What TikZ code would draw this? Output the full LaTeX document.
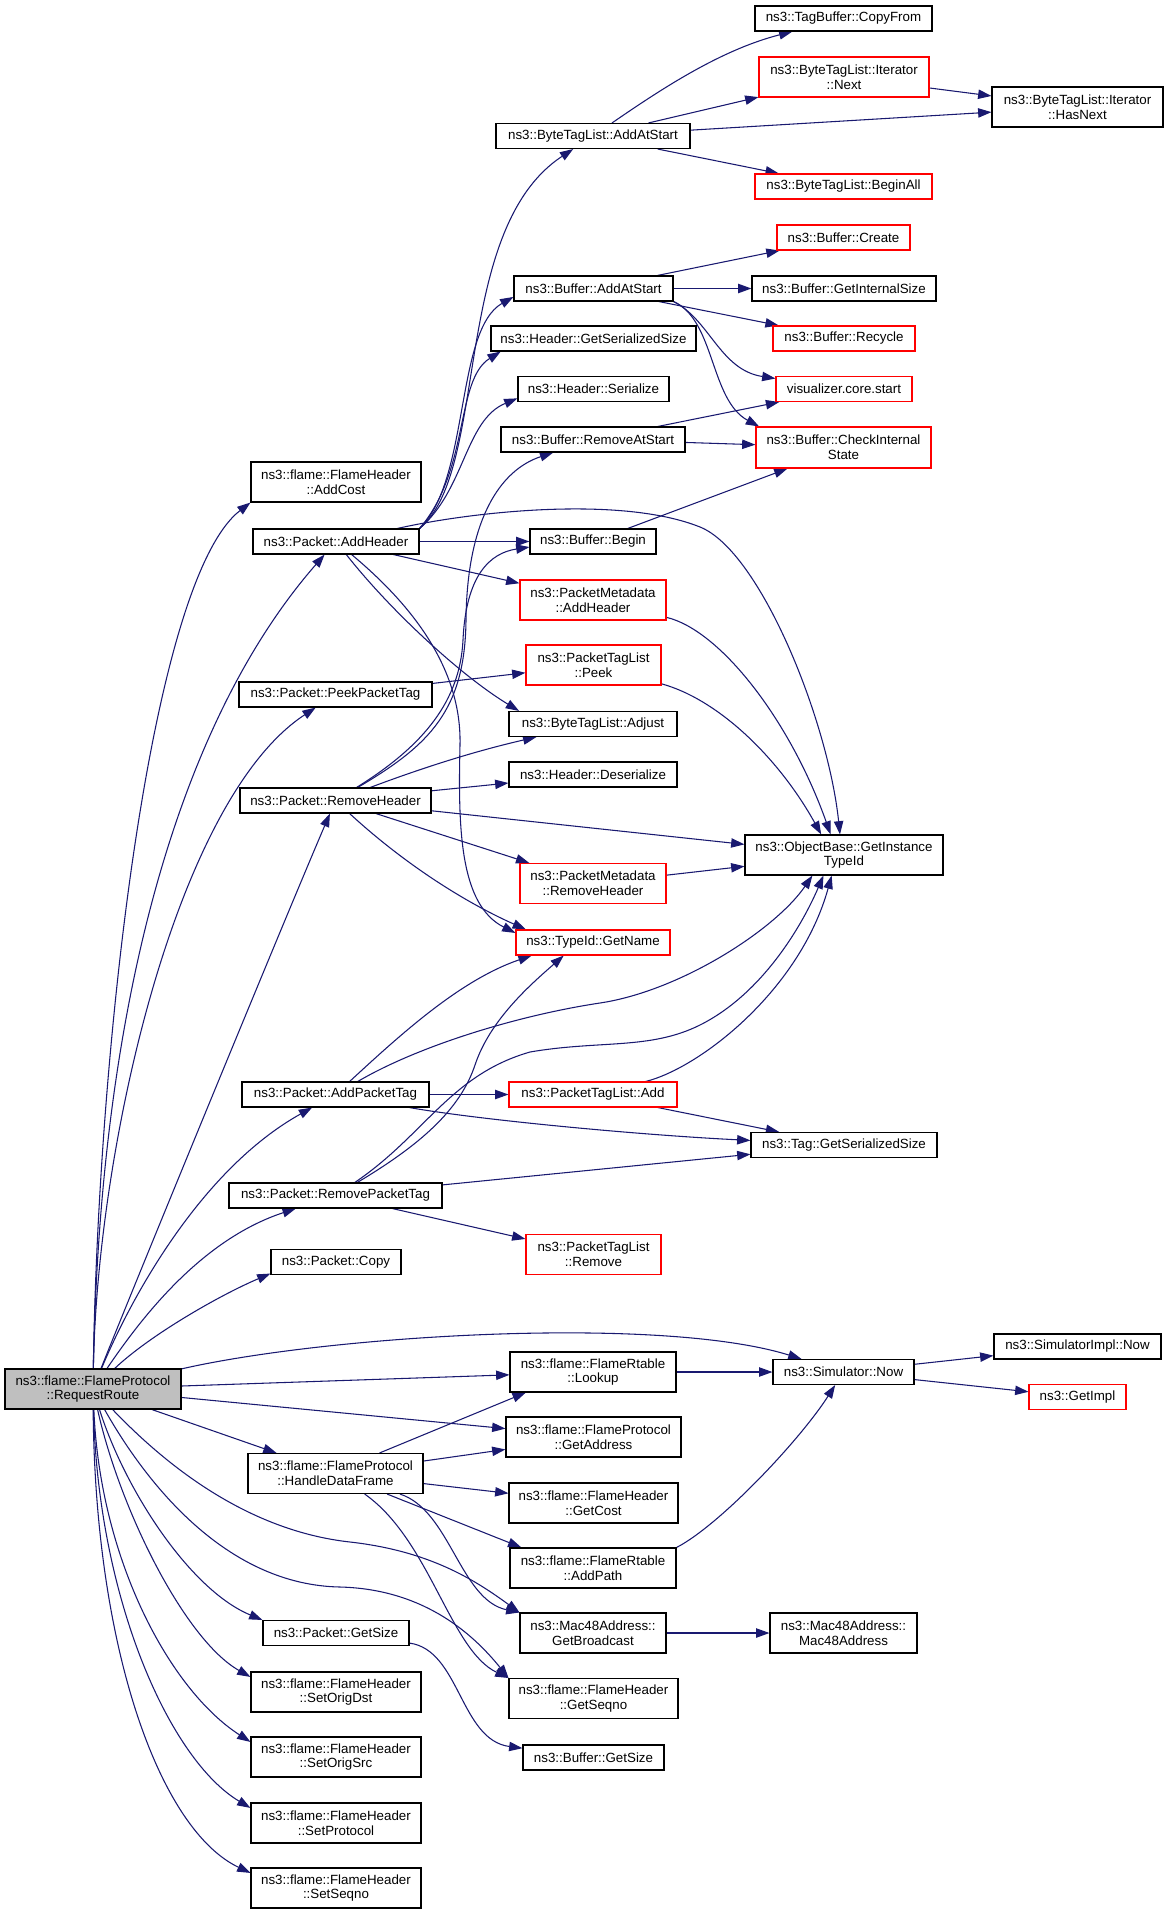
\documentclass[tikz,border=0pt]{standalone}
\usepackage{fontspec}
\setmainfont{Liberation Sans}
\usetikzlibrary{arrows.meta}
\definecolor{edgec}{HTML}{191970}
\definecolor{rrfill}{HTML}{BFBFBF}
\definecolor{nred}{HTML}{FF0000}
\pgfdeclarelayer{bg}
\pgfsetlayers{bg,main}
\tikzset{
  box/.style={draw=black, line width=0.8pt, fill=white, inner sep=0pt, align=center, font=\fontsize{10}{11}\selectfont},
  rbox/.style={box, draw=nred},
  W/.style={minimum width=#1*0.75pt},
  H/.style={minimum height=#1*0.75pt},
  conn/.style={draw=edgec, line width=0.8pt, -{Triangle[length=10pt,width=7pt]}},
}
\begin{document}
\begin{tikzpicture}[x=0.75pt,y=-0.75pt]
\useasboundingbox (0,0) rectangle (1168,1913);
% column 0
\node[box, fill=rrfill, W=176, H=40] (rr) at (93,1389) {ns3::flame::FlameProtocol\\::RequestRoute};
% column 1
\node[box, W=170, H=40] (addcost) at (336,482) {ns3::flame::FlameHeader\\::AddCost};
\node[box, W=166, H=25] (addheader) at (336,541.5) {ns3::Packet::AddHeader};
\node[box, W=193, H=25] (peekpt) at (335.5,694.5) {ns3::Packet::PeekPacketTag};
\node[box, W=191, H=25] (removeheader) at (335.5,800.5) {ns3::Packet::RemoveHeader};
\node[box, W=187, H=25] (addpt) at (335.5,1094.5) {ns3::Packet::AddPacketTag};
\node[box, W=213, H=25] (removept) at (335.5,1195.5) {ns3::Packet::RemovePacketTag};
\node[box, W=130, H=25] (copy) at (336,1262) {ns3::Packet::Copy};
\node[box, W=175, H=40] (hdf) at (335.5,1473.5) {ns3::flame::FlameProtocol\\::HandleDataFrame};
\node[box, W=146, H=25] (getsize) at (336,1633) {ns3::Packet::GetSize};
\node[box, W=170, H=40] (setorigdst) at (336,1692) {ns3::flame::FlameHeader\\::SetOrigDst};
\node[box, W=170, H=40] (setorigsrc) at (336,1757) {ns3::flame::FlameHeader\\::SetOrigSrc};
\node[box, W=170, H=40] (setprotocol) at (336,1823) {ns3::flame::FlameHeader\\::SetProtocol};
\node[box, W=170, H=40] (setseqno) at (336,1888) {ns3::flame::FlameHeader\\::SetSeqno};
% column 2
\node[box, W=194, H=25] (btlaas) at (593,136) {ns3::ByteTagList::AddAtStart};
\node[box, W=159, H=25] (bufaas) at (593.5,288.5) {ns3::Buffer::AddAtStart};
\node[box, W=205, H=25] (hdrgss) at (593.5,338.5) {ns3::Header::GetSerializedSize};
\node[box, W=151, H=25] (hdrser) at (593.5,389) {ns3::Header::Serialize};
\node[box, W=184, H=25] (bufras) at (593,439.5) {ns3::Buffer::RemoveAtStart};
\node[box, W=126, H=25] (bufbegin) at (593,541.5) {ns3::Buffer::Begin};
\node[rbox, W=146, H=40] (pmaddh) at (593,600) {ns3::PacketMetadata\\::AddHeader};
\node[rbox, W=135, H=40] (ptlpeek) at (593.5,665) {ns3::PacketTagList\\::Peek};
\node[box, W=168, H=25] (btladj) at (593,724) {ns3::ByteTagList::Adjust};
\node[box, W=168, H=25] (hdrdes) at (593,774.5) {ns3::Header::Deserialize};
\node[rbox, W=146, H=40] (pmremh) at (593,883.5) {ns3::PacketMetadata\\::RemoveHeader};
\node[rbox, W=154, H=25] (tidgn) at (593,942.5) {ns3::TypeId::GetName};
\node[rbox, W=168, H=25] (ptladd) at (593,1094.5) {ns3::PacketTagList::Add};
\node[rbox, W=135, H=40] (ptlrem) at (593.5,1254.5) {ns3::PacketTagList\\::Remove};
\node[box, W=166, H=40] (frlookup) at (593,1372) {ns3::flame::FlameRtable\\::Lookup};
\node[box, W=175, H=40] (fpgetaddr) at (593.5,1437) {ns3::flame::FlameProtocol\\::GetAddress};
\node[box, W=169, H=40] (fhgetcost) at (593.5,1503) {ns3::flame::FlameHeader\\::GetCost};
\node[box, W=166, H=40] (fraddpath) at (593,1568) {ns3::flame::FlameRtable\\::AddPath};
\node[box, W=146, H=40] (macgb) at (593,1633) {ns3::Mac48Address::\\GetBroadcast};
\node[box, W=169, H=40] (fhgetseqno) at (593.5,1698.5) {ns3::flame::FlameHeader\\::GetSeqno};
\node[box, W=141, H=25] (bufgetsize) at (593.5,1757.5) {ns3::Buffer::GetSize};
% column 3
\node[box, W=177, H=25] (tbcopy) at (843.5,18.5) {ns3::TagBuffer::CopyFrom};
\node[rbox, W=170, H=40] (itnext) at (844,77) {ns3::ByteTagList::Iterator\\::Next};
\node[rbox, W=177, H=25] (btlbeginall) at (843.5,186.5) {ns3::ByteTagList::BeginAll};
\node[rbox, W=133, H=25] (bufcreate) at (843.5,237.5) {ns3::Buffer::Create};
\node[box, W=184, H=25] (bufgis) at (844,288.5) {ns3::Buffer::GetInternalSize};
\node[rbox, W=142, H=25] (bufrecycle) at (844,338.5) {ns3::Buffer::Recycle};
\node[rbox, W=136, H=25] (viz) at (844,389) {visualizer.core.start};
\node[rbox, W=175, H=41] (bufcis) at (843.5,447.5) {ns3::Buffer::CheckInternal\\State};
\node[box, W=198, H=40] (obgitid) at (844,855) {ns3::ObjectBase::GetInstance\\TypeId};
\node[box, W=186, H=25] (taggss) at (844,1145) {ns3::Tag::GetSerializedSize};
\node[box, W=141, H=25] (simnow) at (843.5,1372) {ns3::Simulator::Now};
\node[box, W=147, H=40] (macmac) at (843.5,1633) {ns3::Mac48Address::\\Mac48Address};
% column 4
\node[box, W=171, H=40] (ithasnext) at (1077.5,107) {ns3::ByteTagList::Iterator\\::HasNext};
\node[box, W=167, H=25] (simimplnow) at (1077.5,1346.5) {ns3::SimulatorImpl::Now};
\node[rbox, W=97, H=25] (getimpl) at (1077.5,1397) {ns3::GetImpl};

\begin{pgfonlayer}{bg}
% from RequestRoute
\draw[conn] (rr) .. controls (98,1050) and (150,580) .. (addcost.south west);
\draw[conn] (rr) .. controls (100,1000) and (180,720) .. (addheader);
\draw[conn] (rr) .. controls (97,1150) and (175,800) .. (peekpt);
\draw[conn] (rr) .. controls (120,1320) and (280,930) .. (removeheader);
\draw[conn] (rr) .. controls (130,1300) and (200,1170) .. (addpt);
\draw[conn] (rr) .. controls (140,1320) and (200,1240) .. (removept);
\draw[conn] (rr) .. controls (150,1335) and (220,1295) .. (copy.190);
\draw[conn] (rr) .. controls (330,1335) and (660,1315) .. (simnow);
\draw[conn] (rr) -- (frlookup);
\draw[conn] (rr) -- (fpgetaddr);
\draw[conn] (rr) -- (hdf);
\draw[conn] (rr) .. controls (180,1480) and (260,1532) .. (350,1542) .. controls (430,1551) and (475,1580) .. (macgb.north west);
\draw[conn] (rr) .. controls (150,1490) and (230,1585) .. (340,1587) .. controls (420,1589) and (470,1630) .. (fhgetseqno.north west);
\draw[conn] (rr) .. controls (125,1490) and (190,1590) .. (getsize.north west);
\draw[conn] (rr) .. controls (120,1510) and (185,1640) .. (setorigdst.170);
\draw[conn] (rr) .. controls (100,1560) and (170,1690) .. (setorigsrc.170);
\draw[conn] (rr) .. controls (98,1600) and (170,1760) .. (setprotocol.170);
\draw[conn] (rr) .. controls (95,1650) and (160,1830) .. (setseqno.170);
% from AddHeader
\draw[conn] (addheader.north east) .. controls (490,470) and (450,230) .. (btlaas);
\draw[conn] (addheader.north east) .. controls (470,480) and (455,330) .. (bufaas.186);
\draw[conn] (addheader.north east) .. controls (470,470) and (455,380) .. (hdrgss.188);
\draw[conn] (addheader.north east) .. controls (465,490) and (465,420) .. (hdrser.187);
\draw[conn] (addheader.12) .. controls (470,512) and (620,495) .. (700,527) .. controls (760,551) and (828,720) .. (obgitid.101);
\draw[conn] (addheader) -- (bufbegin);
\draw[conn] (addheader) -- (pmaddh);
\draw[conn] (addheader) .. controls (390,610) and (460,675) .. (btladj.170);
\draw[conn] (addheader) .. controls (400,595) and (462,660) .. (460,745) .. controls (458,830) and (460,905) .. (tidgn.173);
% from RemoveHeader
\draw[conn] (removeheader) .. controls (430,745) and (465,710) .. (466,620) .. controls (467,520) and (500,470) .. (bufras);
\draw[conn] (removeheader) .. controls (425,745) and (460,700) .. (463,640) .. controls (466,575) and (490,553) .. (bufbegin.185);
\draw[conn] (removeheader) .. controls (430,765) and (480,750) .. (btladj);
\draw[conn] (removeheader) -- (hdrdes);
\draw[conn] (removeheader) -- (obgitid);
\draw[conn] (removeheader) -- (pmremh);
\draw[conn] (removeheader) .. controls (400,860) and (460,900) .. (tidgn.169);
% from PeekPacketTag
\draw[conn] (peekpt) -- (ptlpeek);
% from AddPacketTag
\draw[conn] (addpt) .. controls (400,1035) and (460,980) .. (tidgn.192);
\draw[conn] (addpt) .. controls (420,1045) and (520,1015) .. (600,1003) .. controls (680,991) and (775,930) .. (obgitid.213);
\draw[conn] (addpt) -- (ptladd);
\draw[conn] (addpt) .. controls (480,1120) and (640,1135) .. (taggss);
% from RemovePacketTag
\draw[conn] (removept) .. controls (420,1145) and (460,1110) .. (475,1065) .. controls (490,1020) and (530,985) .. (tidgn.204);
\draw[conn] (removept) .. controls (425,1135) and (450,1075) .. (530,1052) .. controls (600,1040) and (650,1050) .. (700,1025) .. controls (760,995) and (800,930) .. (obgitid.225);
\draw[conn] (removept) -- (taggss);
\draw[conn] (removept) -- (ptlrem);
% from HandleDataFrame
\draw[conn] (hdf.25) -- (frlookup.197);
\draw[conn] (hdf) -- (fpgetaddr);
\draw[conn] (hdf) -- (fhgetcost);
\draw[conn] (hdf) -- (fraddpath.164);
\draw[conn] (hdf) .. controls (450,1510) and (460,1600) .. (macgb.north west);
\draw[conn] (hdf) .. controls (430,1540) and (450,1650) .. (fhgetseqno.north west);
% from GetSize
\draw[conn] (getsize) .. controls (460,1650) and (460,1740) .. (bufgetsize);
% from ByteTagList::AddAtStart
\draw[conn] (btlaas) .. controls (660,90) and (720,50) .. (tbcopy);
\draw[conn] (btlaas) -- (itnext);
\draw[conn] (btlaas) -- (ithasnext);
\draw[conn] (btlaas) -- (btlbeginall);
\draw[conn] (itnext) -- (ithasnext);
% from Buffer::AddAtStart
\draw[conn] (bufaas) -- (bufcreate);
\draw[conn] (bufaas) -- (bufgis);
\draw[conn] (bufaas) -- (bufrecycle);
\draw[conn] (bufaas.south east) .. controls (710,320) and (720,370) .. (viz);
\draw[conn] (bufaas.south east) .. controls (715,320) and (710,400) .. (bufcis.166);
% from Buffer::RemoveAtStart and Begin
\draw[conn] (bufras) -- (viz);
\draw[conn] (bufras) -- (bufcis);
\draw[conn] (bufbegin) -- (bufcis);
% into ObjectBase::GetInstanceTypeId
\draw[conn] (pmaddh) .. controls (720,630) and (790,720) .. (obgitid.123);
\draw[conn] (ptlpeek) .. controls (720,700) and (780,760) .. (obgitid.138);
\draw[conn] (pmremh) -- (obgitid);
\draw[conn] (ptladd) .. controls (700,1068) and (800,990) .. (obgitid.239);
\draw[conn] (ptladd) -- (taggss);
% simulator
\draw[conn] (frlookup) -- (simnow);
\draw[conn] (fraddpath.north east) .. controls (720,1525) and (800,1440) .. (simnow);
\draw[conn] (macgb) -- (macmac);
\draw[conn] (simnow) -- (simimplnow);
\draw[conn] (simnow) -- (getimpl);
\end{pgfonlayer}
\end{tikzpicture}
\end{document}
